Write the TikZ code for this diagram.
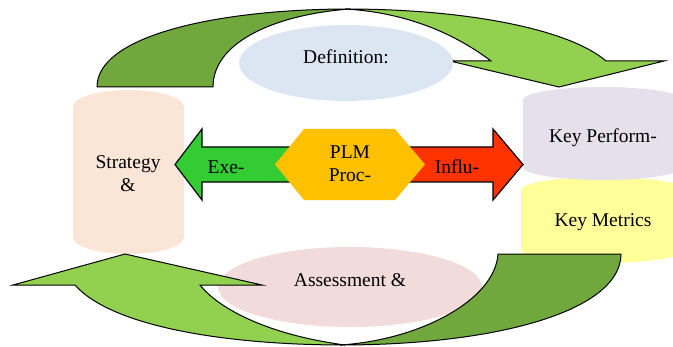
\documentclass[tikz,border=0pt]{standalone}
\usepackage{fontspec}
\setmainfont{Liberation Serif}
\usetikzlibrary{positioning}

\definecolor{loopdark}{RGB}{112,168,62}
\definecolor{looplight}{RGB}{146,208,80}
\definecolor{defblue}{RGB}{220,230,242}
\definecolor{assesspink}{RGB}{242,220,219}
\definecolor{stratpeach}{RGB}{251,229,214}
\definecolor{kpililac}{RGB}{229,224,236}
\definecolor{metricyellow}{RGB}{255,255,153}
\definecolor{plmorange}{RGB}{255,192,0}
\definecolor{exegreen}{RGB}{51,204,51}
\definecolor{influred}{RGB}{255,51,0}

\tikzset{
  backleaf/.style={fill=loopdark, draw=black, line width=0.5pt, line join=round},
  frontleaf/.style={fill=looplight, draw=black, line width=0.5pt, line join=miter},
  flatarrow/.style={draw=black, line width=0.6pt, line join=miter},
  lbl/.style={font=\fontsize{9.75}{11.4}\selectfont, align=center, inner sep=0pt},
}

\begin{document}
\begin{tikzpicture}[x=0.5pt,y=-0.5pt]
  \useasboundingbox (0,0) rectangle (673,347);

  % top loop arrow
  \filldraw[backleaf] (97,87) .. controls (97,35) and (220,9) .. (350,9)
    .. controls (280,14) and (213,40) .. (213,87) -- cycle;
  \filldraw[frontleaf] (345,9) .. controls (470,9) and (570,30) .. (606,61)
    -- (664,61) -- (559,87) -- (450,61) -- (491,61)
    .. controls (450,30) and (400,12) .. (345,9) -- cycle;
  \fill[defblue] (346,63) ellipse [x radius=107, y radius=38];
  \node[lbl] (defn) at (346,57) {Definition:};

  % side columns
  \fill[stratpeach] (73,107) rectangle (184,237);
  \fill[stratpeach] (128.5,107) ellipse [x radius=55.5, y radius=17];
  \fill[stratpeach] (128.5,237) ellipse [x radius=55.5, y radius=17];
  \node[lbl] (strat) at (128,174) {Strategy\\\&};

  \begin{scope}
    \clip (0,0) rectangle (673,347);
    \fill[metricyellow] (521,190) rectangle (685,250);
    \fill[metricyellow] (603,190) ellipse [x radius=82, y radius=13];
    \fill[metricyellow] (603,250) ellipse [x radius=82, y radius=13];
    \fill[kpililac] (523,100) rectangle (683,167);
    \fill[kpililac] (603,100) ellipse [x radius=80, y radius=13];
    \fill[kpililac] (603,167) ellipse [x radius=80, y radius=13];
  \end{scope}
  \node[lbl] (kpi) at (603,138) {Key Perform-};
  \node[lbl] (metrics) at (603,222) {Key Metrics};

  % bottom loop arrow
  \fill[assesspink] (350,287) ellipse [x radius=132, y radius=40];
  \filldraw[backleaf] (621,254) .. controls (621,310) and (500,345) .. (340,345)
    .. controls (420,340) and (495,300) .. (498,254) -- cycle;
  \filldraw[frontleaf] (75,285) .. controls (110,325) and (220,345) .. (345,345)
    .. controls (270,335) and (220,310) .. (200,285)
    -- (262,285) -- (125,254) -- (13,285) -- cycle;
  \node[lbl] (assess) at (350,280) {Assessment \&};

  % middle arrows and process
  \filldraw[flatarrow, fill=exegreen] (175,164.5) -- (202,129) -- (202,147) -- (300,147)
    -- (300,182) -- (202,182) -- (202,200) -- cycle;
  \filldraw[flatarrow, fill=influred] (380,147) -- (493,147) -- (493,129) -- (523,164.5)
    -- (493,200) -- (493,182) -- (380,182) -- cycle;
  \fill[plmorange] (275,164.5) -- (304,129) -- (395,129) -- (425,164.5)
    -- (395,200) -- (304,200) -- cycle;
  \node[lbl] (plm) at (350,164) {PLM\\Proc-};
  \node[lbl] (exe) at (226,167) {Exe-};
  \node[lbl] (influ) at (457,167) {Influ-};
\end{tikzpicture}
\end{document}
